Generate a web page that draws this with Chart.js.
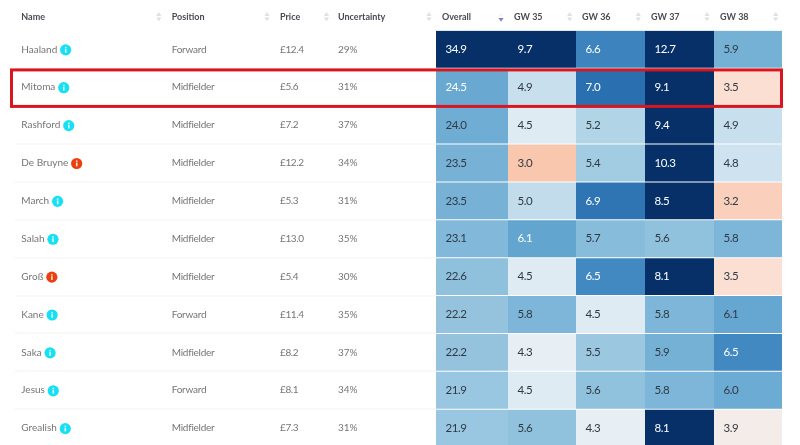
<!DOCTYPE html>
<html>
<head>
<meta charset="utf-8">
<title>Player projections</title>
<script src="https://cdn.jsdelivr.net/npm/chart.js@4"></script>
<style>
    html, body { margin: 0; padding: 0; background: #fff; width: 800px; height: 445px; overflow: hidden; }
    canvas { display: block; }
</style>
</head>
<body>
<canvas id="projectionChart" width="800" height="460"></canvas>
<script>
const players = ['Haaland', 'Mitoma', 'Rashford', 'De Bruyne', 'March', 'Salah', 'Groß', 'Kane', 'Saka', 'Jesus', 'Grealish'];
const positions = ['Forward', 'Midfielder', 'Midfielder', 'Midfielder', 'Midfielder', 'Midfielder', 'Midfielder', 'Forward', 'Midfielder', 'Forward', 'Midfielder'];
const prices = ['£12.4', '£5.6', '£7.2', '£12.2', '£5.3', '£13.0', '£5.4', '£11.4', '£8.2', '£8.1', '£7.3'];
const uncertainty = ['29%', '31%', '37%', '34%', '31%', '35%', '30%', '35%', '37%', '34%', '31%'];
const alerts = [false, false, false, true, false, false, true, false, false, false, false];

const overall = [34.9, 24.5, 24.0, 23.5, 23.5, 23.1, 22.6, 22.2, 22.2, 21.9, 21.9];
const gw35 = [9.7, 4.9, 4.5, 3.0, 5.0, 6.12, 4.5, 5.8, 4.3, 4.5, 5.6];
const gw36 = [6.6, 7.0, 5.2, 5.4, 6.9, 5.7, 6.5, 4.5, 5.5, 5.6, 4.3];
const gw37 = [12.7, 9.1, 9.4, 10.3, 8.5, 5.6, 8.1, 5.8, 5.9, 5.8, 8.1];
const gw38 = [5.9, 3.5, 4.9, 4.8, 3.2, 5.8, 3.5, 6.08, 6.5, 6.0, 3.9];

const columns = ['Overall', 'GW 35', 'GW 36', 'GW 37', 'GW 38'];
const columnValues = [overall, gw35, gw36, gw37, gw38];

// column edges along the table, the overall column is a bit wider
const columnEdges = [0, 72, 140, 209, 278, 346];

// colour ramps, value -> colour
const gwRamp = [
    [3.0, [249, 198, 174]], [3.5, [251, 223, 210]], [3.9, [243, 236, 232]], [4.3, [232, 239, 244]],
    [4.5, [222, 235, 243]], [5.0, [195, 220, 236]], [5.2, [177, 212, 230]], [5.5, [155, 200, 224]],
    [5.8, [125, 182, 216]], [6.1, [100, 166, 208]], [6.5, [66, 137, 193]], [7.0, [42, 111, 176]],
    [8.1, [7, 48, 104]], [13, [7, 48, 104]]
];
const overallRamp = [
    [21.9, [153, 198, 224]], [22.6, [143, 192, 220]], [23.5, [120, 177, 214]], [24.5, [104, 168, 209]],
    [30, [7, 48, 104]], [35, [7, 48, 104]]
];

function rampColor(ramp, v) {
    let i = 1;
    while (i < ramp.length - 1 && v > ramp[i][0]) i++;
    const [v0, c0] = ramp[i - 1];
    const [v1, c1] = ramp[i];
    const t = Math.min(1, Math.max(0, (v - v0) / (v1 - v0)));
    const rgb = c0.map((c, k) => Math.round(c + (c1[k] - c) * t));
    return `rgb(${rgb[0]}, ${rgb[1]}, ${rgb[2]})`;
}

function isDark(col, v) {
    return col === 0 ? v >= 24.5 : v >= 6.1;
}

const datasets = columns.map((name, c) => ({
    label: name,
    data: players.map((p, i) => ({ y: p, x: [columnEdges[c], columnEdges[c + 1]], v: columnValues[c][i] })),
    backgroundColor: ctx => rampColor(c === 0 ? overallRamp : gwRamp, ctx.raw.v),
    borderWidth: 0,
    barPercentage: 0.975,
    categoryPercentage: 1,
    grouped: false
}));

function drawSortArrows(ctx, x, y, upColor, downColor) {
    ctx.fillStyle = upColor;
    ctx.beginPath();
    ctx.moveTo(x - 2.6, y - 0.8);
    ctx.lineTo(x + 2.6, y - 0.8);
    ctx.lineTo(x, y - 4.6);
    ctx.fill();
    ctx.fillStyle = downColor;
    ctx.beginPath();
    ctx.moveTo(x - 2.6, y + 0.8);
    ctx.lineTo(x + 2.6, y + 0.8);
    ctx.lineTo(x, y + 4.6);
    ctx.fill();
}

function drawInfoIcon(ctx, x, y, alert) {
    ctx.fillStyle = alert ? '#e8410f' : '#17e0f4';
    ctx.beginPath();
    ctx.arc(x, y, 5.6, 0, Math.PI * 2);
    ctx.fill();
    ctx.fillStyle = 'rgba(255, 255, 255, 0.9)';
    ctx.fillRect(x - 0.7, y - 0.9, 1.5, 3.7);
    ctx.fillRect(x - 0.7, y - 3, 1.5, 1.4);
}

const tablePlugin = {
    id: 'tableText',
    afterDatasetsDraw(chart) {
        const ctx = chart.ctx;
        const xScale = chart.scales.x;
        const yScale = chart.scales.y;
        ctx.save();
        ctx.textBaseline = 'middle';
        ctx.textAlign = 'left';

        // header row
        ctx.font = 'bold 9px Lato';
        ctx.letterSpacing = '0px';
        ctx.fillStyle = '#4a4a55';
        const headers = [['Name', 21.3], ['Position', 171.7], ['Price', 280], ['Uncertainty', 338]];
        headers.forEach(h => ctx.fillText(h[0], h[1], 17));
        columns.forEach((name, c) => {
            ctx.fillText(name, xScale.getPixelForValue(columnEdges[c]) + 6, 17);
        });
        [158.8, 267, 326.5, 429, 569.7, 638.3, 707, 775.7].forEach(x => drawSortArrows(ctx, x, 16.7, '#dde0e4', '#dde0e4'));
        drawSortArrows(ctx, 501, 17.2, '#f6f6fa', '#7e82c6');

        // row separators and left hand columns
        const rowHeight = yScale.getPixelForValue(players[1]) - yScale.getPixelForValue(players[0]);
        players.forEach((p, i) => {
            const y = yScale.getPixelForValue(p);
            ctx.fillStyle = '#f3f3f3';
            ctx.fillRect(15, Math.round(y + rowHeight / 2) - 0.5, 420, 1);

            ctx.font = '10px Lato';
            ctx.fillStyle = '#757575';
            ctx.letterSpacing = '0px';
            ctx.fillText(p, 21.3, y);
            const nameWidth = ctx.measureText(p).width;
            ctx.fillText(uncertainty[i], 338, y);
            drawInfoIcon(ctx, 21.3 + nameWidth + 8.4, y + 0.5, alerts[i]);
            ctx.fillStyle = '#757575';
            ctx.letterSpacing = '-0.25px';
            ctx.fillText(positions[i], 171.7, y);
            ctx.letterSpacing = '-0.4px';
            ctx.fillText(prices[i], 280, y);
        });

        // numbers inside the cells
        ctx.font = '11.5px Lato';
        ctx.letterSpacing = '-0.45px';
        columnValues.forEach((values, c) => {
            values.forEach((v, i) => {
                ctx.fillStyle = isDark(c, v) ? '#ffffff' : '#2f3a44';
                ctx.fillText(v.toFixed(1), xScale.getPixelForValue(columnEdges[c]) + 9.5, yScale.getPixelForValue(players[i]));
            });
        });

        // red highlight around the Mitoma row
        const hy = yScale.getPixelForValue('Mitoma');
        ctx.strokeStyle = '#d9161f';
        ctx.lineWidth = 3;
        ctx.strokeRect(11.5, hy - 17.3, xScale.right - 12, rowHeight - 1.4);
        ctx.restore();
    }
};

new Chart(document.getElementById('projectionChart').getContext('2d'), {
    type: 'bar',
    data: { labels: players, datasets: datasets },
    plugins: [tablePlugin],
    options: {
        indexAxis: 'y',
        responsive: false,
        animation: false,
        layout: { padding: { left: 436, right: 18, top: 30.4, bottom: 12.9 } },
        plugins: {
            legend: { display: false },
            tooltip: { enabled: false }
        },
        scales: {
            x: { type: 'linear', min: 0, max: 346, display: false },
            y: { type: 'category', offset: true, display: false }
        }
    }
});
</script>
</body>
</html>
